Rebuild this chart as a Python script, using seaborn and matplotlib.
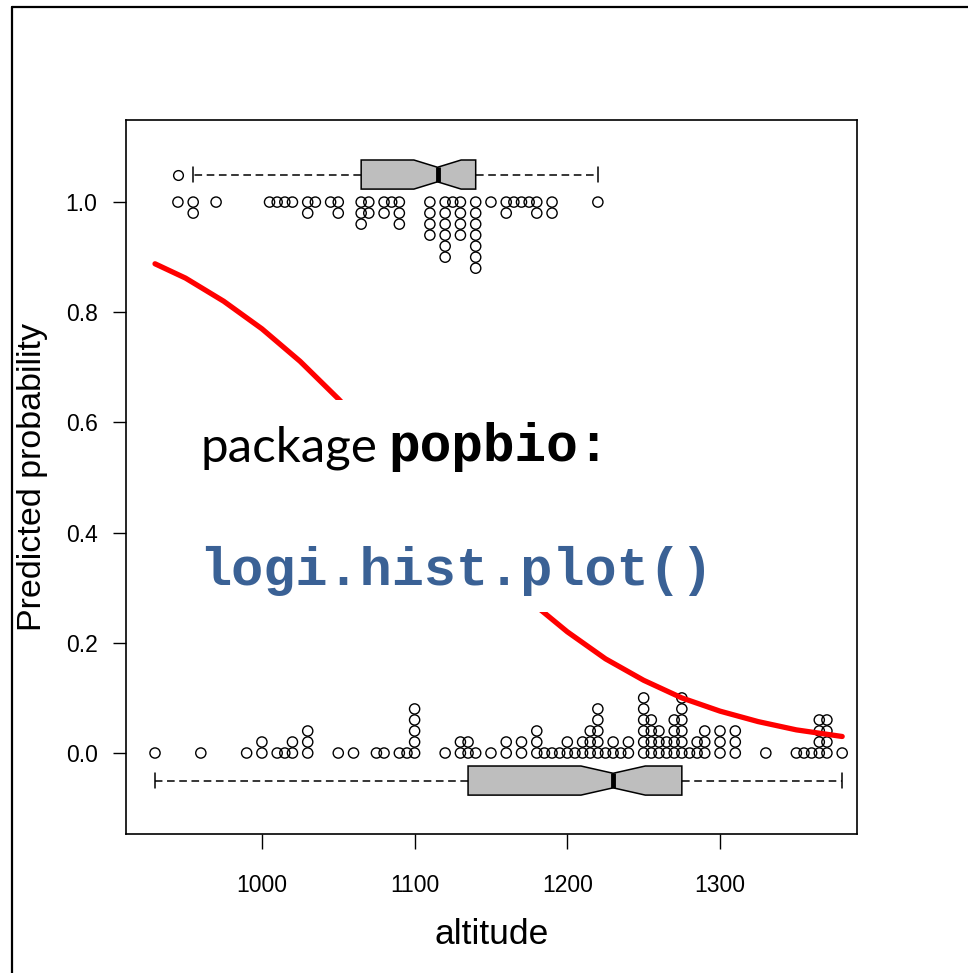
import numpy as np
import pandas as pd
import matplotlib
matplotlib.use("Agg")
import matplotlib.pyplot as plt
import seaborn as sns
from matplotlib.patches import Rectangle
from matplotlib.lines import Line2D

# ---- data ----
# presences (y = 1): altitude values and how many points are stacked there
top_alt = [945, 955, 970, 1005, 1010, 1015, 1020, 1030, 1035, 1045, 1050,
           1065, 1070, 1080, 1085, 1090, 1110, 1120, 1125, 1130, 1140, 1150,
           1160, 1165, 1170, 1175, 1180, 1190, 1220]
top_count = [1, 2, 1, 1, 1, 1, 1, 2, 1, 1, 2,
             3, 2, 2, 1, 3, 4, 6, 1, 4, 7, 1,
             2, 1, 1, 1, 2, 2, 1]

# absences (y = 0)
bot_alt = [930, 960, 990, 1000, 1010, 1015, 1020, 1030, 1050, 1060, 1075,
           1080, 1090, 1095, 1100, 1120, 1130, 1135, 1140, 1150, 1160, 1170,
           1180, 1185, 1190, 1195, 1200, 1205, 1210, 1215, 1220, 1225, 1230,
           1235, 1240, 1250, 1255, 1260, 1265, 1270, 1275, 1280, 1285, 1290,
           1300, 1310, 1330, 1350, 1355, 1360, 1365, 1370, 1380]
bot_count = [1, 1, 1, 2, 1, 1, 2, 3, 1, 1, 1,
             1, 1, 1, 5, 1, 2, 2, 1, 1, 2, 2,
             3, 1, 1, 1, 2, 1, 2, 3, 5, 1, 2,
             1, 2, 6, 4, 3, 2, 4, 6, 1, 2, 3,
             3, 3, 1, 1, 1, 1, 4, 4, 1]

# fitted curve (predicted probability) read along altitude
curve_alt = [930, 950, 975, 1000, 1025, 1050, 1075, 1100, 1125, 1150,
             1175, 1200, 1225, 1250, 1275, 1300, 1325, 1350, 1380]
curve_prob = [0.888, 0.862, 0.820, 0.770, 0.711, 0.643, 0.570, 0.493, 0.416,
              0.343, 0.277, 0.220, 0.171, 0.132, 0.100, 0.076, 0.057, 0.042,
              0.030]

x_ticks = [1000, 1100, 1200, 1300]
y_ticks = [0.0, 0.2, 0.4, 0.6, 0.8, 1.0]
y_ticklabels = ["0.0", "0.2", "0.4", "0.6", "0.8", "1.0"]

# ---- build tables ----
STEP = 0.02
pts = []
for a, c in zip(top_alt, top_count):
    for k in range(c):
        pts.append((a, 1.0 - STEP * k))
for a, c in zip(bot_alt, bot_count):
    for k in range(c):
        pts.append((a, 0.0 + STEP * k))
pts_df = pd.DataFrame(pts, columns=["altitude", "y"])

box_rows = []
for a, c in zip(top_alt, top_count):
    box_rows += [(a, 1.05)] * c
for a, c in zip(bot_alt, bot_count):
    box_rows += [(a, -0.05)] * c
box_df = pd.DataFrame(box_rows, columns=["altitude", "pos"])

curve_df = pd.DataFrame({"altitude": curve_alt, "prob": curve_prob})

# ---- style ----
sns.set_theme(style="ticks")
plt.rcParams["font.family"] = ["Liberation Sans", "DejaVu Sans"]

fig = plt.figure(figsize=(9.68, 9.73), dpi=100)
fig.patch.set_facecolor("white")
ax = fig.add_axes([126 / 968, 1 - 834 / 973, (857 - 126) / 968, (834 - 120) / 973])
ax.set_facecolor("white")

sns.boxplot(data=box_df, x="altitude", y="pos", orient="h", native_scale=True,
            notch=True, width=0.048, color="#BEBEBE", saturation=1,
            linecolor="black", linewidth=1.1, whis=1.5, fliersize=7,
            flierprops=dict(marker="o", markerfacecolor="none",
                            markeredgecolor="black", markeredgewidth=1.0),
            whiskerprops=dict(linestyle=(0, (5, 3))),
            medianprops=dict(linewidth=3.5, color="black"),
            ax=ax)

sns.scatterplot(data=pts_df, x="altitude", y="y", marker="o", s=54,
                color="black", linewidth=1.0, ax=ax, zorder=4, legend=False)
sc = ax.collections[-1]
sc.set_facecolor("none")
sc.set_edgecolor("black")

sns.lineplot(data=curve_df, x="altitude", y="prob", color="#FF0000",
             linewidth=3.8, ax=ax, zorder=5)

ax.set_xlim(911, 1389.7)
ax.set_ylim(-0.147, 1.149)
ax.set_xticks(x_ticks)
ax.set_xticklabels([str(t) for t in x_ticks])
ax.set_yticks(y_ticks)
ax.set_yticklabels(y_ticklabels)
ax.tick_params(axis="x", direction="out", length=10.5, width=1, pad=18,
               labelsize=16.5, colors="black")
ax.tick_params(axis="y", direction="out", length=9.5, width=1, pad=11,
               labelsize=16.5, colors="black")
for s in ax.spines.values():
    s.set_visible(True)
    s.set_color("black")
    s.set_linewidth(1.2)
ax.grid(False)

ax.set_xlabel("altitude", fontsize=25.5, color="black")
ax.set_ylabel("Predicted probability", fontsize=24.5, color="black")
ax.xaxis.set_label_coords(0.5, (834 - 918) / 714)
ax.yaxis.set_label_coords((48 - 126) / 731, 0.5)

# white panel with overlay text
fig.add_artist(Rectangle((190 / 968, 1 - 612 / 973), 530 / 968, 212 / 973,
                         transform=fig.transFigure, facecolor="white",
                         edgecolor="none", zorder=3))
fig.text(200 / 968, 1 - 461 / 973, "package", fontsize=35.5,
         family=["Lato", "DejaVu Sans"], color="black", va="baseline",
         ha="left", zorder=4)
fig.text(388 / 968, 1 - 461 / 973, "popbio:", fontsize=38,
         family=["Liberation Mono", "DejaVu Sans Mono"], weight="bold",
         color="black", va="baseline", ha="left", zorder=4)
fig.text(199 / 968, 1 - 585 / 973, "logi.hist.plot()", fontsize=38.5,
         family=["Liberation Mono", "DejaVu Sans Mono"], weight="bold",
         color="#3A6195", va="baseline", ha="left", zorder=4)

# screenshot frame lines
fig.add_artist(Line2D([12 / 968, 12 / 968], [0, 1 - 7 / 973],
                      transform=fig.transFigure, color="black", linewidth=1.6))
fig.add_artist(Line2D([12 / 968, 1], [1 - 7 / 973, 1 - 7 / 973],
                      transform=fig.transFigure, color="black", linewidth=1.6))

fig.savefig("out.png", dpi=100, facecolor="white")
